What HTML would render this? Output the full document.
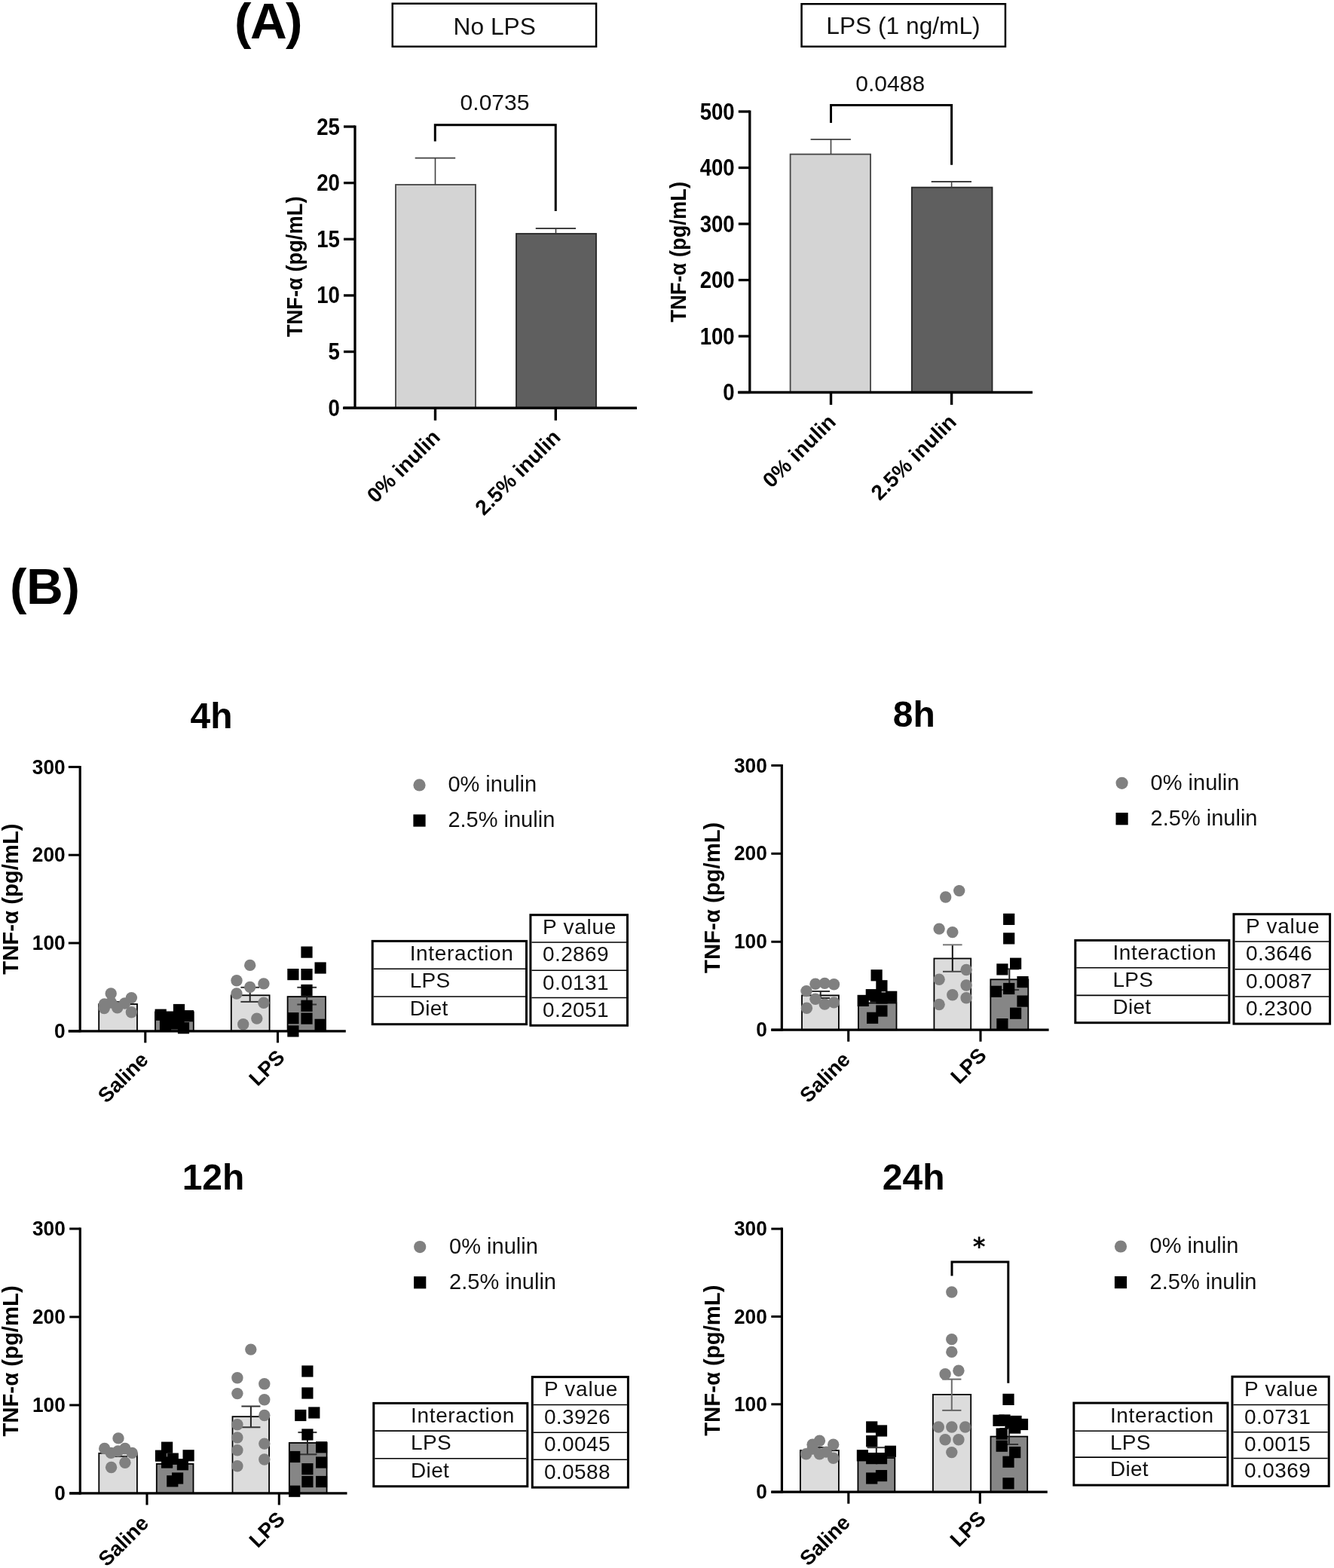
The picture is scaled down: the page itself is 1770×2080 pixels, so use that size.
<!DOCTYPE html>
<html><head><meta charset="utf-8"><title>TNF-alpha figure</title>
<style>
html,body{margin:0;padding:0;background:#fff;}
body{width:1770px;height:2080px;overflow:hidden;}
svg{display:block;font-family:"Liberation Sans", sans-serif;}
</style></head>
<body>
<svg width="1770" height="2080" viewBox="0 0 1770 2080">
<rect x="0" y="0" width="1770" height="2080" fill="#fff"/>
<text x="311.1" y="50.8" font-size="67.5" font-weight="bold" text-anchor="start" fill="#000" letter-spacing="-1.6">(A)</text>
<rect x="520.75" y="4.75" width="270.3" height="57" fill="none" stroke="#000" stroke-width="2.5"/>
<text x="656.2" y="46" font-size="31.7" font-weight="normal" text-anchor="middle" fill="#111" >No LPS</text>
<rect x="1063.55" y="5.25" width="270.4" height="56.5" fill="none" stroke="#000" stroke-width="2.5"/>
<text x="1198.5" y="45.4" font-size="31.7" font-weight="normal" text-anchor="middle" fill="#111" >LPS (1 ng/mL)</text>
<rect x="525" y="245" width="106" height="296.2" fill="#d4d4d4" stroke="#444" stroke-width="1.8"/>
<rect x="685" y="310" width="106" height="231.2" fill="#5f5f5f" stroke="#262626" stroke-width="1.8"/>
<line x1="577.5" y1="245" x2="577.5" y2="209.7" stroke="#404040" stroke-width="1.6" stroke-linecap="butt"/>
<line x1="550.7" y1="209.7" x2="604.2" y2="209.7" stroke="#404040" stroke-width="1.8" stroke-linecap="butt"/>
<line x1="737.5" y1="310" x2="737.5" y2="303" stroke="#404040" stroke-width="1.6" stroke-linecap="butt"/>
<line x1="710.75" y1="303" x2="764" y2="303" stroke="#404040" stroke-width="1.8" stroke-linecap="butt"/>
<line x1="471" y1="166.4" x2="471" y2="542.8" stroke="#000" stroke-width="3.3" stroke-linecap="butt"/>
<line x1="455" y1="541.2" x2="845" y2="541.2" stroke="#000" stroke-width="3.5" stroke-linecap="butt"/>
<line x1="456" y1="541.2" x2="471" y2="541.2" stroke="#000" stroke-width="3.3" stroke-linecap="butt"/>
<text transform="translate(450.9,551.7) scale(0.8900,1)" font-size="31" font-weight="bold" text-anchor="end" fill="#000" >0</text>
<line x1="456" y1="466.56" x2="471" y2="466.56" stroke="#000" stroke-width="3.3" stroke-linecap="butt"/>
<text transform="translate(450.9,477.06) scale(0.8900,1)" font-size="31" font-weight="bold" text-anchor="end" fill="#000" >5</text>
<line x1="456" y1="391.92" x2="471" y2="391.92" stroke="#000" stroke-width="3.3" stroke-linecap="butt"/>
<text transform="translate(450.9,402.42) scale(0.8900,1)" font-size="31" font-weight="bold" text-anchor="end" fill="#000" >10</text>
<line x1="456" y1="317.28" x2="471" y2="317.28" stroke="#000" stroke-width="3.3" stroke-linecap="butt"/>
<text transform="translate(450.9,327.78) scale(0.8900,1)" font-size="31" font-weight="bold" text-anchor="end" fill="#000" >15</text>
<line x1="456" y1="242.64" x2="471" y2="242.64" stroke="#000" stroke-width="3.3" stroke-linecap="butt"/>
<text transform="translate(450.9,253.14) scale(0.8900,1)" font-size="31" font-weight="bold" text-anchor="end" fill="#000" >20</text>
<line x1="456" y1="168" x2="471" y2="168" stroke="#000" stroke-width="3.3" stroke-linecap="butt"/>
<text transform="translate(450.9,178.5) scale(0.8900,1)" font-size="31" font-weight="bold" text-anchor="end" fill="#000" >25</text>
<line x1="577.5" y1="541.2" x2="577.5" y2="557.7" stroke="#000" stroke-width="3.4" stroke-linecap="butt"/>
<line x1="737.3" y1="541.2" x2="737.3" y2="557.7" stroke="#000" stroke-width="3.4" stroke-linecap="butt"/>
<path d="M577.3,187.5 V165.75 H737.25 V280" stroke="#000" stroke-width="3" fill="none" stroke-linejoin="miter"/>
<text x="656.5" y="146" font-size="30" font-weight="normal" text-anchor="middle" fill="#111" >0.0735</text>
<text transform="translate(400.5,353.8) rotate(-90) scale(0.926,1)" font-size="29.48" font-weight="bold" text-anchor="middle">TNF-α (pg/mL)</text>
<rect x="1048.6" y="204.6" width="106.4" height="315.9" fill="#d4d4d4" stroke="#444" stroke-width="1.8"/>
<rect x="1209.8" y="248.6" width="106.7" height="271.9" fill="#5f5f5f" stroke="#262626" stroke-width="1.8"/>
<line x1="1102.5" y1="204.6" x2="1102.5" y2="184.8" stroke="#404040" stroke-width="1.6" stroke-linecap="butt"/>
<line x1="1075.6" y1="184.8" x2="1128.9" y2="184.8" stroke="#404040" stroke-width="1.8" stroke-linecap="butt"/>
<line x1="1262.6" y1="248.6" x2="1262.6" y2="241" stroke="#404040" stroke-width="1.6" stroke-linecap="butt"/>
<line x1="1235.7" y1="241" x2="1289" y2="241" stroke="#404040" stroke-width="1.8" stroke-linecap="butt"/>
<line x1="994.8" y1="146.4" x2="994.8" y2="522.1" stroke="#000" stroke-width="3.3" stroke-linecap="butt"/>
<line x1="979" y1="520.5" x2="1370" y2="520.5" stroke="#000" stroke-width="3.5" stroke-linecap="butt"/>
<line x1="979.8" y1="520.5" x2="994.8" y2="520.5" stroke="#000" stroke-width="3.3" stroke-linecap="butt"/>
<text transform="translate(974.7,531) scale(0.8900,1)" font-size="31" font-weight="bold" text-anchor="end" fill="#000" >0</text>
<line x1="979.8" y1="446" x2="994.8" y2="446" stroke="#000" stroke-width="3.3" stroke-linecap="butt"/>
<text transform="translate(974.7,456.5) scale(0.8900,1)" font-size="31" font-weight="bold" text-anchor="end" fill="#000" >100</text>
<line x1="979.8" y1="371.5" x2="994.8" y2="371.5" stroke="#000" stroke-width="3.3" stroke-linecap="butt"/>
<text transform="translate(974.7,382) scale(0.8900,1)" font-size="31" font-weight="bold" text-anchor="end" fill="#000" >200</text>
<line x1="979.8" y1="297" x2="994.8" y2="297" stroke="#000" stroke-width="3.3" stroke-linecap="butt"/>
<text transform="translate(974.7,307.5) scale(0.8900,1)" font-size="31" font-weight="bold" text-anchor="end" fill="#000" >300</text>
<line x1="979.8" y1="222.5" x2="994.8" y2="222.5" stroke="#000" stroke-width="3.3" stroke-linecap="butt"/>
<text transform="translate(974.7,233) scale(0.8900,1)" font-size="31" font-weight="bold" text-anchor="end" fill="#000" >400</text>
<line x1="979.8" y1="148" x2="994.8" y2="148" stroke="#000" stroke-width="3.3" stroke-linecap="butt"/>
<text transform="translate(974.7,158.5) scale(0.8900,1)" font-size="31" font-weight="bold" text-anchor="end" fill="#000" >500</text>
<line x1="1102.5" y1="520.5" x2="1102.5" y2="537" stroke="#000" stroke-width="3.4" stroke-linecap="butt"/>
<line x1="1262.6" y1="520.5" x2="1262.6" y2="537" stroke="#000" stroke-width="3.4" stroke-linecap="butt"/>
<path d="M1102.5,163 V139.5 H1262.6 V218.8" stroke="#000" stroke-width="3" fill="none" stroke-linejoin="miter"/>
<text x="1181.2" y="121" font-size="30" font-weight="normal" text-anchor="middle" fill="#111" >0.0488</text>
<text transform="translate(909.8,334.3) rotate(-90) scale(0.926,1)" font-size="29.48" font-weight="bold" text-anchor="middle">TNF-α (pg/mL)</text>
<text transform="translate(585.5,581.7) rotate(-45)" font-size="28" font-weight="bold" text-anchor="end">0% inulin</text>
<text transform="translate(745.3,581.7) rotate(-45)" font-size="28" font-weight="bold" text-anchor="end">2.5% inulin</text>
<text transform="translate(1110.5,561.5) rotate(-45)" font-size="28" font-weight="bold" text-anchor="end">0% inulin</text>
<text transform="translate(1270.6,561.5) rotate(-45)" font-size="28" font-weight="bold" text-anchor="end">2.5% inulin</text>
<text x="13.05" y="801.25" font-size="67.5" font-weight="bold" text-anchor="start" fill="#000" letter-spacing="-0.4">(B)</text>
<rect x="131.2" y="1332" width="50.8" height="35.8" fill="#dcdcdc" stroke="#000" stroke-width="1.8"/>
<rect x="206" y="1342.4" width="50.8" height="25.4" fill="#868686" stroke="#000" stroke-width="1.8"/>
<rect x="306.8" y="1320.3" width="50.8" height="47.5" fill="#dcdcdc" stroke="#000" stroke-width="1.8"/>
<rect x="381.6" y="1322.1" width="50.4" height="45.7" fill="#868686" stroke="#000" stroke-width="1.8"/>
<line x1="156.6" y1="1335" x2="156.6" y2="1329" stroke="#222" stroke-width="2" stroke-linecap="butt"/>
<line x1="144.3" y1="1329" x2="168.9" y2="1329" stroke="#333" stroke-width="2" stroke-linecap="butt"/>
<line x1="144.3" y1="1335" x2="168.9" y2="1335" stroke="#333" stroke-width="2" stroke-linecap="butt"/>
<line x1="331.7" y1="1328.9" x2="331.7" y2="1309.8" stroke="#222" stroke-width="2" stroke-linecap="butt"/>
<line x1="319.4" y1="1309.8" x2="344" y2="1309.8" stroke="#333" stroke-width="2" stroke-linecap="butt"/>
<line x1="319.4" y1="1328.9" x2="344" y2="1328.9" stroke="#333" stroke-width="2" stroke-linecap="butt"/>
<line x1="407.2" y1="1332.5" x2="407.2" y2="1309.8" stroke="#222" stroke-width="2" stroke-linecap="butt"/>
<line x1="394.3" y1="1309.8" x2="420.1" y2="1309.8" stroke="#333" stroke-width="2" stroke-linecap="butt"/>
<line x1="394.3" y1="1332.5" x2="420.1" y2="1332.5" stroke="#333" stroke-width="2" stroke-linecap="butt"/>
<circle cx="147.2" cy="1318" r="7.7" fill="#808080"/>
<circle cx="174.4" cy="1323.6" r="7.7" fill="#808080"/>
<circle cx="138.3" cy="1337.6" r="7.7" fill="#808080"/>
<circle cx="155.7" cy="1336.7" r="7.7" fill="#808080"/>
<circle cx="174.4" cy="1342.7" r="7.7" fill="#808080"/>
<circle cx="147.5" cy="1330" r="7.7" fill="#808080"/>
<circle cx="165.5" cy="1331" r="7.7" fill="#808080"/>
<circle cx="138.5" cy="1332" r="7.7" fill="#808080"/>
<circle cx="331.7" cy="1280.4" r="7.7" fill="#808080"/>
<circle cx="314" cy="1300.8" r="7.7" fill="#808080"/>
<circle cx="331.7" cy="1309.4" r="7.7" fill="#808080"/>
<circle cx="349.9" cy="1304.9" r="7.7" fill="#808080"/>
<circle cx="314" cy="1318" r="7.7" fill="#808080"/>
<circle cx="349.9" cy="1330.2" r="7.7" fill="#808080"/>
<circle cx="340.8" cy="1351.1" r="7.7" fill="#808080"/>
<circle cx="322.7" cy="1358.8" r="7.7" fill="#808080"/>
<rect x="205.6" y="1338.6" width="15.2" height="15.2" fill="#000"/>
<rect x="229.9" y="1331.9" width="15.2" height="15.2" fill="#000"/>
<rect x="241.8" y="1340.1" width="15.2" height="15.2" fill="#000"/>
<rect x="217.4" y="1342.9" width="15.2" height="15.2" fill="#000"/>
<rect x="235.9" y="1356.1" width="15.2" height="15.2" fill="#000"/>
<rect x="211.9" y="1352.4" width="15.2" height="15.2" fill="#000"/>
<rect x="223.4" y="1350.4" width="15.2" height="15.2" fill="#000"/>
<rect x="229.4" y="1344.4" width="15.2" height="15.2" fill="#000"/>
<rect x="399.4" y="1255.5" width="15.2" height="15.2" fill="#000"/>
<rect x="381.3" y="1285" width="15.2" height="15.2" fill="#000"/>
<rect x="399.4" y="1285" width="15.2" height="15.2" fill="#000"/>
<rect x="417.5" y="1276.4" width="15.2" height="15.2" fill="#000"/>
<rect x="399.4" y="1305.9" width="15.2" height="15.2" fill="#000"/>
<rect x="399.4" y="1326.7" width="15.2" height="15.2" fill="#000"/>
<rect x="381.3" y="1343.1" width="15.2" height="15.2" fill="#000"/>
<rect x="399.4" y="1343.5" width="15.2" height="15.2" fill="#000"/>
<rect x="417.5" y="1351.7" width="15.2" height="15.2" fill="#000"/>
<rect x="381.3" y="1360.3" width="15.2" height="15.2" fill="#000"/>
<line x1="106.2" y1="1015.9" x2="106.2" y2="1369.3" stroke="#000" stroke-width="3.2" stroke-linecap="butt"/>
<line x1="90.8" y1="1367.8" x2="458.8" y2="1367.8" stroke="#000" stroke-width="3.3" stroke-linecap="butt"/>
<line x1="90.8" y1="1367.8" x2="106.2" y2="1367.8" stroke="#000" stroke-width="3" stroke-linecap="butt"/>
<text transform="translate(86.6,1376.9) scale(0.9580,1)" font-size="27.4" font-weight="bold" text-anchor="end" fill="#000" >0</text>
<line x1="90.8" y1="1251" x2="106.2" y2="1251" stroke="#000" stroke-width="3" stroke-linecap="butt"/>
<text transform="translate(86.6,1260.1) scale(0.9580,1)" font-size="27.4" font-weight="bold" text-anchor="end" fill="#000" >100</text>
<line x1="90.8" y1="1134.2" x2="106.2" y2="1134.2" stroke="#000" stroke-width="3" stroke-linecap="butt"/>
<text transform="translate(86.6,1143.3) scale(0.9580,1)" font-size="27.4" font-weight="bold" text-anchor="end" fill="#000" >200</text>
<line x1="90.8" y1="1017.4" x2="106.2" y2="1017.4" stroke="#000" stroke-width="3" stroke-linecap="butt"/>
<text transform="translate(86.6,1026.5) scale(0.9580,1)" font-size="27.4" font-weight="bold" text-anchor="end" fill="#000" >300</text>
<line x1="192.8" y1="1367.8" x2="192.8" y2="1383.3" stroke="#000" stroke-width="3.1" stroke-linecap="butt"/>
<line x1="368.5" y1="1367.8" x2="368.5" y2="1383.3" stroke="#000" stroke-width="3.1" stroke-linecap="butt"/>
<text transform="translate(23.9,1192.6) rotate(-90) scale(0.984,1)" font-size="29.8" font-weight="bold" text-anchor="middle">TNF-α (pg/mL)</text>
<text transform="translate(198.3,1407.4) rotate(-45)" font-size="27.4" font-weight="bold" text-anchor="end">Saline</text>
<text transform="translate(379.4,1404.3) rotate(-45)" font-size="27.4" font-weight="bold" text-anchor="end">LPS</text>
<text x="280.5" y="966" font-size="48" font-weight="bold" text-anchor="middle" fill="#000" >4h</text>
<circle cx="556.5" cy="1041.4" r="8.1" fill="#808080"/>
<rect x="548.4" y="1080.4" width="16.2" height="16.2" fill="#000"/>
<text x="594.4" y="1050" font-size="29" font-weight="normal" text-anchor="start" fill="#111" >0% inulin</text>
<text x="594.4" y="1097.4" font-size="29" font-weight="normal" text-anchor="start" fill="#111" >2.5% inulin</text>
<rect x="494.2" y="1248.4" width="204.3" height="110.3" fill="none" stroke="#000" stroke-width="3"/>
<rect x="703.9" y="1213.7" width="128.6" height="146.6" fill="none" stroke="#000" stroke-width="3"/>
<line x1="495.7" y1="1285.3" x2="697" y2="1285.3" stroke="#000" stroke-width="1.6" stroke-linecap="butt"/>
<line x1="495.7" y1="1322" x2="697" y2="1322" stroke="#000" stroke-width="1.6" stroke-linecap="butt"/>
<line x1="705.4" y1="1250" x2="831" y2="1250" stroke="#000" stroke-width="1.6" stroke-linecap="butt"/>
<line x1="705.4" y1="1287.3" x2="831" y2="1287.3" stroke="#000" stroke-width="1.6" stroke-linecap="butt"/>
<line x1="705.4" y1="1323.5" x2="831" y2="1323.5" stroke="#000" stroke-width="1.6" stroke-linecap="butt"/>
<text x="543.7" y="1273.9" font-size="28" font-weight="normal" text-anchor="start" fill="#111" letter-spacing="0.64">Interaction</text>
<text x="543.7" y="1310.3" font-size="28" font-weight="normal" text-anchor="start" fill="#111" letter-spacing="0.3">LPS</text>
<text x="543.7" y="1347" font-size="28" font-weight="normal" text-anchor="start" fill="#111" letter-spacing="0.3">Diet</text>
<text x="720" y="1239.2" font-size="28" font-weight="normal" text-anchor="start" fill="#111" letter-spacing="0.75">P value</text>
<text x="720" y="1275.2" font-size="28" font-weight="normal" text-anchor="start" fill="#111" letter-spacing="0.4">0.2869</text>
<text x="720" y="1312.5" font-size="28" font-weight="normal" text-anchor="start" fill="#111" letter-spacing="0.4">0.0131</text>
<text x="720" y="1348.7" font-size="28" font-weight="normal" text-anchor="start" fill="#111" letter-spacing="0.4">0.2051</text>
<rect x="1064" y="1320.4" width="48.9" height="45.8" fill="#dcdcdc" stroke="#000" stroke-width="1.8"/>
<rect x="1138.9" y="1330.5" width="50.6" height="35.7" fill="#868686" stroke="#000" stroke-width="1.8"/>
<rect x="1239.4" y="1271.5" width="48.8" height="94.7" fill="#dcdcdc" stroke="#000" stroke-width="1.8"/>
<rect x="1314.3" y="1299.3" width="50" height="66.9" fill="#868686" stroke="#000" stroke-width="1.8"/>
<line x1="1088.7" y1="1324" x2="1088.7" y2="1315" stroke="#222" stroke-width="2" stroke-linecap="butt"/>
<line x1="1076.4" y1="1315" x2="1101" y2="1315" stroke="#333" stroke-width="2" stroke-linecap="butt"/>
<line x1="1076.4" y1="1324" x2="1101" y2="1324" stroke="#333" stroke-width="2" stroke-linecap="butt"/>
<line x1="1263.8" y1="1288.8" x2="1263.8" y2="1253.3" stroke="#111" stroke-width="2" stroke-linecap="butt"/>
<line x1="1251" y1="1253.3" x2="1276.6" y2="1253.3" stroke="#777" stroke-width="2" stroke-linecap="butt"/>
<line x1="1251" y1="1288.8" x2="1276.6" y2="1288.8" stroke="#4a4a4a" stroke-width="2" stroke-linecap="butt"/>
<line x1="1339.3" y1="1313.1" x2="1339.3" y2="1285.4" stroke="#222" stroke-width="2" stroke-linecap="butt"/>
<line x1="1326.5" y1="1285.4" x2="1352.1" y2="1285.4" stroke="#333" stroke-width="2" stroke-linecap="butt"/>
<line x1="1326.5" y1="1313.1" x2="1352.1" y2="1313.1" stroke="#333" stroke-width="2" stroke-linecap="butt"/>
<circle cx="1081.9" cy="1305.3" r="7.7" fill="#808080"/>
<circle cx="1094.2" cy="1304.4" r="7.7" fill="#808080"/>
<circle cx="1106.5" cy="1305.7" r="7.7" fill="#808080"/>
<circle cx="1070" cy="1314.6" r="7.7" fill="#808080"/>
<circle cx="1081.9" cy="1325.3" r="7.7" fill="#808080"/>
<circle cx="1094.2" cy="1332.1" r="7.7" fill="#808080"/>
<circle cx="1106.5" cy="1329.9" r="7.7" fill="#808080"/>
<circle cx="1070.4" cy="1337.2" r="7.7" fill="#808080"/>
<circle cx="1272.7" cy="1181.6" r="7.7" fill="#808080"/>
<circle cx="1254.7" cy="1190" r="7.7" fill="#808080"/>
<circle cx="1246.1" cy="1232.1" r="7.7" fill="#808080"/>
<circle cx="1263.8" cy="1236.6" r="7.7" fill="#808080"/>
<circle cx="1282.1" cy="1286.5" r="7.7" fill="#808080"/>
<circle cx="1246.1" cy="1299.3" r="7.7" fill="#808080"/>
<circle cx="1282.1" cy="1307" r="7.7" fill="#808080"/>
<circle cx="1263.8" cy="1319.8" r="7.7" fill="#808080"/>
<circle cx="1282.1" cy="1323.7" r="7.7" fill="#808080"/>
<circle cx="1246.1" cy="1332.5" r="7.7" fill="#808080"/>
<rect x="1155.5" y="1286.2" width="15.2" height="15.2" fill="#000"/>
<rect x="1162.3" y="1300.2" width="15.2" height="15.2" fill="#000"/>
<rect x="1148.7" y="1312.1" width="15.2" height="15.2" fill="#000"/>
<rect x="1137.6" y="1319.8" width="15.2" height="15.2" fill="#000"/>
<rect x="1175.1" y="1314.7" width="15.2" height="15.2" fill="#000"/>
<rect x="1162.3" y="1333.4" width="15.2" height="15.2" fill="#000"/>
<rect x="1150" y="1342.7" width="15.2" height="15.2" fill="#000"/>
<rect x="1162.4" y="1316.4" width="15.2" height="15.2" fill="#000"/>
<rect x="1154.4" y="1314.4" width="15.2" height="15.2" fill="#000"/>
<rect x="1331.1" y="1211.8" width="15.2" height="15.2" fill="#000"/>
<rect x="1331.1" y="1237.3" width="15.2" height="15.2" fill="#000"/>
<rect x="1340" y="1270.6" width="15.2" height="15.2" fill="#000"/>
<rect x="1322.3" y="1278.3" width="15.2" height="15.2" fill="#000"/>
<rect x="1349.4" y="1295" width="15.2" height="15.2" fill="#000"/>
<rect x="1313.9" y="1307.7" width="15.2" height="15.2" fill="#000"/>
<rect x="1331.1" y="1303.9" width="15.2" height="15.2" fill="#000"/>
<rect x="1349.4" y="1320.5" width="15.2" height="15.2" fill="#000"/>
<rect x="1340" y="1336.6" width="15.2" height="15.2" fill="#000"/>
<rect x="1322.3" y="1351" width="15.2" height="15.2" fill="#000"/>
<line x1="1037.3" y1="1013.91" x2="1037.3" y2="1367.7" stroke="#000" stroke-width="3.2" stroke-linecap="butt"/>
<line x1="1023.3" y1="1366.2" x2="1391.6" y2="1366.2" stroke="#000" stroke-width="3.3" stroke-linecap="butt"/>
<line x1="1023.3" y1="1366.2" x2="1037.3" y2="1366.2" stroke="#000" stroke-width="3" stroke-linecap="butt"/>
<text transform="translate(1017.8,1375.3) scale(0.9580,1)" font-size="27.4" font-weight="bold" text-anchor="end" fill="#000" >0</text>
<line x1="1023.3" y1="1249.27" x2="1037.3" y2="1249.27" stroke="#000" stroke-width="3" stroke-linecap="butt"/>
<text transform="translate(1017.8,1258.37) scale(0.9580,1)" font-size="27.4" font-weight="bold" text-anchor="end" fill="#000" >100</text>
<line x1="1023.3" y1="1132.34" x2="1037.3" y2="1132.34" stroke="#000" stroke-width="3" stroke-linecap="butt"/>
<text transform="translate(1017.8,1141.44) scale(0.9580,1)" font-size="27.4" font-weight="bold" text-anchor="end" fill="#000" >200</text>
<line x1="1023.3" y1="1015.41" x2="1037.3" y2="1015.41" stroke="#000" stroke-width="3" stroke-linecap="butt"/>
<text transform="translate(1017.8,1024.51) scale(0.9580,1)" font-size="27.4" font-weight="bold" text-anchor="end" fill="#000" >300</text>
<line x1="1125.7" y1="1366.2" x2="1125.7" y2="1381.7" stroke="#000" stroke-width="3.1" stroke-linecap="butt"/>
<line x1="1301" y1="1366.2" x2="1301" y2="1381.7" stroke="#000" stroke-width="3.1" stroke-linecap="butt"/>
<text transform="translate(955,1190.81) rotate(-90) scale(0.984,1)" font-size="29.8" font-weight="bold" text-anchor="middle">TNF-α (pg/mL)</text>
<text transform="translate(1129.6,1407.2) rotate(-45)" font-size="27.4" font-weight="bold" text-anchor="end">Saline</text>
<text transform="translate(1310.5,1401.6) rotate(-45)" font-size="27.4" font-weight="bold" text-anchor="end">LPS</text>
<text x="1212.8" y="963.8" font-size="48" font-weight="bold" text-anchor="middle" fill="#000" >8h</text>
<circle cx="1488.6" cy="1038.8" r="8.1" fill="#808080"/>
<rect x="1480.5" y="1078.1" width="16.2" height="16.2" fill="#000"/>
<text x="1526.6" y="1047.8" font-size="29" font-weight="normal" text-anchor="start" fill="#111" >0% inulin</text>
<text x="1526.6" y="1094.8" font-size="29" font-weight="normal" text-anchor="start" fill="#111" >2.5% inulin</text>
<rect x="1426.8" y="1247.4" width="204.1" height="109.3" fill="none" stroke="#000" stroke-width="3"/>
<rect x="1637" y="1212.7" width="127.6" height="145.4" fill="none" stroke="#000" stroke-width="3"/>
<line x1="1428.3" y1="1283.7" x2="1629.4" y2="1283.7" stroke="#000" stroke-width="1.6" stroke-linecap="butt"/>
<line x1="1428.3" y1="1320.4" x2="1629.4" y2="1320.4" stroke="#000" stroke-width="1.6" stroke-linecap="butt"/>
<line x1="1638.5" y1="1249" x2="1763.1" y2="1249" stroke="#000" stroke-width="1.6" stroke-linecap="butt"/>
<line x1="1638.5" y1="1285.7" x2="1763.1" y2="1285.7" stroke="#000" stroke-width="1.6" stroke-linecap="butt"/>
<line x1="1638.5" y1="1322" x2="1763.1" y2="1322" stroke="#000" stroke-width="1.6" stroke-linecap="butt"/>
<text x="1476.4" y="1272.9" font-size="28" font-weight="normal" text-anchor="start" fill="#111" letter-spacing="0.64">Interaction</text>
<text x="1476.4" y="1308.7" font-size="28" font-weight="normal" text-anchor="start" fill="#111" letter-spacing="0.3">LPS</text>
<text x="1476.4" y="1345.4" font-size="28" font-weight="normal" text-anchor="start" fill="#111" letter-spacing="0.3">Diet</text>
<text x="1653.1" y="1238.2" font-size="28" font-weight="normal" text-anchor="start" fill="#111" letter-spacing="0.75">P value</text>
<text x="1653.1" y="1274.2" font-size="28" font-weight="normal" text-anchor="start" fill="#111" letter-spacing="0.4">0.3646</text>
<text x="1653.1" y="1310.9" font-size="28" font-weight="normal" text-anchor="start" fill="#111" letter-spacing="0.4">0.0087</text>
<text x="1653.1" y="1347.2" font-size="28" font-weight="normal" text-anchor="start" fill="#111" letter-spacing="0.4">0.2300</text>
<rect x="131.3" y="1927.8" width="50.6" height="53.1" fill="#dcdcdc" stroke="#000" stroke-width="1.8"/>
<rect x="207.8" y="1941.9" width="48.7" height="39" fill="#868686" stroke="#000" stroke-width="1.8"/>
<rect x="308.5" y="1879.2" width="48.6" height="101.7" fill="#dcdcdc" stroke="#000" stroke-width="1.8"/>
<rect x="383.8" y="1914" width="49.8" height="66.9" fill="#868686" stroke="#000" stroke-width="1.8"/>
<line x1="156.6" y1="1932" x2="156.6" y2="1924" stroke="#222" stroke-width="2" stroke-linecap="butt"/>
<line x1="144.3" y1="1924" x2="168.9" y2="1924" stroke="#333" stroke-width="2" stroke-linecap="butt"/>
<line x1="144.3" y1="1932" x2="168.9" y2="1932" stroke="#333" stroke-width="2" stroke-linecap="butt"/>
<line x1="332.9" y1="1893.3" x2="332.9" y2="1865.5" stroke="#222" stroke-width="2" stroke-linecap="butt"/>
<line x1="320.4" y1="1865.5" x2="345.4" y2="1865.5" stroke="#333" stroke-width="2" stroke-linecap="butt"/>
<line x1="320.4" y1="1893.3" x2="345.4" y2="1893.3" stroke="#333" stroke-width="2" stroke-linecap="butt"/>
<line x1="407.9" y1="1929.3" x2="407.9" y2="1900.1" stroke="#222" stroke-width="2" stroke-linecap="butt"/>
<line x1="395.4" y1="1900.1" x2="420.4" y2="1900.1" stroke="#333" stroke-width="2" stroke-linecap="butt"/>
<line x1="395.4" y1="1929.3" x2="420.4" y2="1929.3" stroke="#333" stroke-width="2" stroke-linecap="butt"/>
<circle cx="157" cy="1907.9" r="7.7" fill="#808080"/>
<circle cx="138.7" cy="1921.5" r="7.7" fill="#808080"/>
<circle cx="147.2" cy="1927.4" r="7.7" fill="#808080"/>
<circle cx="156.6" cy="1924.9" r="7.7" fill="#808080"/>
<circle cx="165.9" cy="1921.5" r="7.7" fill="#808080"/>
<circle cx="175.3" cy="1927.4" r="7.7" fill="#808080"/>
<circle cx="165.9" cy="1940.2" r="7.7" fill="#808080"/>
<circle cx="147.6" cy="1946.5" r="7.7" fill="#808080"/>
<circle cx="332.8" cy="1790.1" r="7.7" fill="#808080"/>
<circle cx="314.9" cy="1827.7" r="7.7" fill="#808080"/>
<circle cx="350.8" cy="1835.8" r="7.7" fill="#808080"/>
<circle cx="314.9" cy="1848.6" r="7.7" fill="#808080"/>
<circle cx="350.8" cy="1856.7" r="7.7" fill="#808080"/>
<circle cx="350.8" cy="1877.5" r="7.7" fill="#808080"/>
<circle cx="314.9" cy="1889.7" r="7.7" fill="#808080"/>
<circle cx="314.9" cy="1907" r="7.7" fill="#808080"/>
<circle cx="350.8" cy="1915.1" r="7.7" fill="#808080"/>
<circle cx="314.9" cy="1923.8" r="7.7" fill="#808080"/>
<circle cx="350.8" cy="1936" r="7.7" fill="#808080"/>
<circle cx="314.9" cy="1944.7" r="7.7" fill="#808080"/>
<rect x="214" y="1912.6" width="15.2" height="15.2" fill="#000"/>
<rect x="205.9" y="1923.6" width="15.2" height="15.2" fill="#000"/>
<rect x="221.7" y="1927.5" width="15.2" height="15.2" fill="#000"/>
<rect x="242.5" y="1923.2" width="15.2" height="15.2" fill="#000"/>
<rect x="214" y="1932.4" width="15.2" height="15.2" fill="#000"/>
<rect x="234.8" y="1935.1" width="15.2" height="15.2" fill="#000"/>
<rect x="228" y="1953.4" width="15.2" height="15.2" fill="#000"/>
<rect x="221.2" y="1957.2" width="15.2" height="15.2" fill="#000"/>
<rect x="400.3" y="1811.4" width="15.2" height="15.2" fill="#000"/>
<rect x="400.3" y="1840.4" width="15.2" height="15.2" fill="#000"/>
<rect x="391.2" y="1869.9" width="15.2" height="15.2" fill="#000"/>
<rect x="409.2" y="1866.4" width="15.2" height="15.2" fill="#000"/>
<rect x="400.3" y="1895.4" width="15.2" height="15.2" fill="#000"/>
<rect x="419" y="1912.2" width="15.2" height="15.2" fill="#000"/>
<rect x="383.1" y="1924.9" width="15.2" height="15.2" fill="#000"/>
<rect x="419" y="1932.4" width="15.2" height="15.2" fill="#000"/>
<rect x="400.3" y="1941.1" width="15.2" height="15.2" fill="#000"/>
<rect x="400.3" y="1957.9" width="15.2" height="15.2" fill="#000"/>
<rect x="419" y="1957.9" width="15.2" height="15.2" fill="#000"/>
<rect x="383.1" y="1970.6" width="15.2" height="15.2" fill="#000"/>
<line x1="106.3" y1="1628.49" x2="106.3" y2="1982.4" stroke="#000" stroke-width="3.2" stroke-linecap="butt"/>
<line x1="92.2" y1="1980.9" x2="460.5" y2="1980.9" stroke="#000" stroke-width="3.3" stroke-linecap="butt"/>
<line x1="92.2" y1="1980.9" x2="106.3" y2="1980.9" stroke="#000" stroke-width="3" stroke-linecap="butt"/>
<text transform="translate(86.8,1990) scale(0.9580,1)" font-size="27.4" font-weight="bold" text-anchor="end" fill="#000" >0</text>
<line x1="92.2" y1="1863.93" x2="106.3" y2="1863.93" stroke="#000" stroke-width="3" stroke-linecap="butt"/>
<text transform="translate(86.8,1873.03) scale(0.9580,1)" font-size="27.4" font-weight="bold" text-anchor="end" fill="#000" >100</text>
<line x1="92.2" y1="1746.96" x2="106.3" y2="1746.96" stroke="#000" stroke-width="3" stroke-linecap="butt"/>
<text transform="translate(86.8,1756.06) scale(0.9580,1)" font-size="27.4" font-weight="bold" text-anchor="end" fill="#000" >200</text>
<line x1="92.2" y1="1629.99" x2="106.3" y2="1629.99" stroke="#000" stroke-width="3" stroke-linecap="butt"/>
<text transform="translate(86.8,1639.09) scale(0.9580,1)" font-size="27.4" font-weight="bold" text-anchor="end" fill="#000" >300</text>
<line x1="195" y1="1980.9" x2="195" y2="1996.4" stroke="#000" stroke-width="3.1" stroke-linecap="butt"/>
<line x1="370.3" y1="1980.9" x2="370.3" y2="1996.4" stroke="#000" stroke-width="3.1" stroke-linecap="butt"/>
<text transform="translate(24,1805.45) rotate(-90) scale(0.984,1)" font-size="29.8" font-weight="bold" text-anchor="middle">TNF-α (pg/mL)</text>
<text transform="translate(198.8,2022.3) rotate(-45)" font-size="27.4" font-weight="bold" text-anchor="end">Saline</text>
<text transform="translate(379.7,2016.7) rotate(-45)" font-size="27.4" font-weight="bold" text-anchor="end">LPS</text>
<text x="283" y="1578.1" font-size="48" font-weight="bold" text-anchor="middle" fill="#000" >12h</text>
<circle cx="557.2" cy="1654.1" r="8.1" fill="#808080"/>
<rect x="549.1" y="1693.2" width="16.2" height="16.2" fill="#000"/>
<text x="596.1" y="1662.5" font-size="29" font-weight="normal" text-anchor="start" fill="#111" >0% inulin</text>
<text x="596.1" y="1709.5" font-size="29" font-weight="normal" text-anchor="start" fill="#111" >2.5% inulin</text>
<rect x="495.8" y="1861.4" width="204" height="110.3" fill="none" stroke="#000" stroke-width="3"/>
<rect x="706.3" y="1826.6" width="127.1" height="146.5" fill="none" stroke="#000" stroke-width="3"/>
<line x1="497.3" y1="1898.1" x2="698.3" y2="1898.1" stroke="#000" stroke-width="1.6" stroke-linecap="butt"/>
<line x1="497.3" y1="1934.8" x2="698.3" y2="1934.8" stroke="#000" stroke-width="1.6" stroke-linecap="butt"/>
<line x1="707.8" y1="1863.5" x2="831.9" y2="1863.5" stroke="#000" stroke-width="1.6" stroke-linecap="butt"/>
<line x1="707.8" y1="1900.2" x2="831.9" y2="1900.2" stroke="#000" stroke-width="1.6" stroke-linecap="butt"/>
<line x1="707.8" y1="1936.3" x2="831.9" y2="1936.3" stroke="#000" stroke-width="1.6" stroke-linecap="butt"/>
<text x="545.1" y="1886.9" font-size="28" font-weight="normal" text-anchor="start" fill="#111" letter-spacing="0.64">Interaction</text>
<text x="545.1" y="1923.1" font-size="28" font-weight="normal" text-anchor="start" fill="#111" letter-spacing="0.3">LPS</text>
<text x="545.1" y="1959.8" font-size="28" font-weight="normal" text-anchor="start" fill="#111" letter-spacing="0.3">Diet</text>
<text x="721.9" y="1852.1" font-size="28" font-weight="normal" text-anchor="start" fill="#111" letter-spacing="0.75">P value</text>
<text x="721.9" y="1888.7" font-size="28" font-weight="normal" text-anchor="start" fill="#111" letter-spacing="0.4">0.3926</text>
<text x="721.9" y="1925.4" font-size="28" font-weight="normal" text-anchor="start" fill="#111" letter-spacing="0.4">0.0045</text>
<text x="721.9" y="1961.5" font-size="28" font-weight="normal" text-anchor="start" fill="#111" letter-spacing="0.4">0.0588</text>
<rect x="1061.9" y="1924" width="51" height="55.2" fill="#dcdcdc" stroke="#000" stroke-width="1.8"/>
<rect x="1138.4" y="1934" width="48.9" height="45.2" fill="#868686" stroke="#000" stroke-width="1.8"/>
<rect x="1237.9" y="1849.9" width="50.3" height="129.3" fill="#dcdcdc" stroke="#000" stroke-width="1.8"/>
<rect x="1314.5" y="1905.6" width="48.7" height="73.6" fill="#868686" stroke="#000" stroke-width="1.8"/>
<line x1="1087.4" y1="1928" x2="1087.4" y2="1920" stroke="#222" stroke-width="2" stroke-linecap="butt"/>
<line x1="1075.1" y1="1920" x2="1099.7" y2="1920" stroke="#333" stroke-width="2" stroke-linecap="butt"/>
<line x1="1075.1" y1="1928" x2="1099.7" y2="1928" stroke="#333" stroke-width="2" stroke-linecap="butt"/>
<line x1="1162.8" y1="1936" x2="1162.8" y2="1920.2" stroke="#222" stroke-width="2" stroke-linecap="butt"/>
<line x1="1150.5" y1="1920.2" x2="1175.1" y2="1920.2" stroke="#333" stroke-width="2" stroke-linecap="butt"/>
<line x1="1150.5" y1="1936" x2="1175.1" y2="1936" stroke="#333" stroke-width="2" stroke-linecap="butt"/>
<line x1="1262.8" y1="1870.9" x2="1262.8" y2="1829.6" stroke="#6b6b6b" stroke-width="2" stroke-linecap="butt"/>
<line x1="1250.2" y1="1829.6" x2="1275.4" y2="1829.6" stroke="#6b6b6b" stroke-width="2" stroke-linecap="butt"/>
<line x1="1250.2" y1="1870.9" x2="1275.4" y2="1870.9" stroke="#666" stroke-width="2" stroke-linecap="butt"/>
<line x1="1338.8" y1="1916" x2="1338.8" y2="1895" stroke="#222" stroke-width="2" stroke-linecap="butt"/>
<line x1="1326.5" y1="1895" x2="1351.1" y2="1895" stroke="#333" stroke-width="2" stroke-linecap="butt"/>
<line x1="1326.5" y1="1916" x2="1351.1" y2="1916" stroke="#333" stroke-width="2" stroke-linecap="butt"/>
<circle cx="1087.4" cy="1911.2" r="7.7" fill="#808080"/>
<circle cx="1078.1" cy="1916.3" r="7.7" fill="#808080"/>
<circle cx="1105.7" cy="1916.3" r="7.7" fill="#808080"/>
<circle cx="1069.6" cy="1928.7" r="7.7" fill="#808080"/>
<circle cx="1087.4" cy="1928.7" r="7.7" fill="#808080"/>
<circle cx="1096.3" cy="1926.1" r="7.7" fill="#808080"/>
<circle cx="1105.7" cy="1934.2" r="7.7" fill="#808080"/>
<circle cx="1078.1" cy="1922" r="7.7" fill="#808080"/>
<circle cx="1262.8" cy="1714" r="7.7" fill="#808080"/>
<circle cx="1262.8" cy="1776.6" r="7.7" fill="#808080"/>
<circle cx="1262.8" cy="1793.4" r="7.7" fill="#808080"/>
<circle cx="1271.9" cy="1818.2" r="7.7" fill="#808080"/>
<circle cx="1254.1" cy="1822.8" r="7.7" fill="#808080"/>
<circle cx="1245.3" cy="1893" r="7.7" fill="#808080"/>
<circle cx="1262.8" cy="1893" r="7.7" fill="#808080"/>
<circle cx="1280.7" cy="1893" r="7.7" fill="#808080"/>
<circle cx="1254.1" cy="1909.8" r="7.7" fill="#808080"/>
<circle cx="1271.9" cy="1909.8" r="7.7" fill="#808080"/>
<circle cx="1262.8" cy="1926.6" r="7.7" fill="#808080"/>
<rect x="1149.1" y="1885.4" width="15.2" height="15.2" fill="#000"/>
<rect x="1161.9" y="1890.4" width="15.2" height="15.2" fill="#000"/>
<rect x="1149.1" y="1904.1" width="15.2" height="15.2" fill="#000"/>
<rect x="1173.8" y="1917.7" width="15.2" height="15.2" fill="#000"/>
<rect x="1136.8" y="1923.2" width="15.2" height="15.2" fill="#000"/>
<rect x="1149.1" y="1927" width="15.2" height="15.2" fill="#000"/>
<rect x="1161.9" y="1927" width="15.2" height="15.2" fill="#000"/>
<rect x="1161.9" y="1950" width="15.2" height="15.2" fill="#000"/>
<rect x="1149.1" y="1953.4" width="15.2" height="15.2" fill="#000"/>
<rect x="1330.4" y="1848.8" width="15.2" height="15.2" fill="#000"/>
<rect x="1317.4" y="1876.7" width="15.2" height="15.2" fill="#000"/>
<rect x="1348.9" y="1881.9" width="15.2" height="15.2" fill="#000"/>
<rect x="1321.6" y="1894.5" width="15.2" height="15.2" fill="#000"/>
<rect x="1339.1" y="1886.5" width="15.2" height="15.2" fill="#000"/>
<rect x="1321.6" y="1910.6" width="15.2" height="15.2" fill="#000"/>
<rect x="1339.1" y="1919" width="15.2" height="15.2" fill="#000"/>
<rect x="1330.4" y="1931.6" width="15.2" height="15.2" fill="#000"/>
<rect x="1330.4" y="1960.2" width="15.2" height="15.2" fill="#000"/>
<rect x="1333.4" y="1879.4" width="15.2" height="15.2" fill="#000"/>
<rect x="1325.4" y="1876.4" width="15.2" height="15.2" fill="#000"/>
<rect x="1340.4" y="1877.9" width="15.2" height="15.2" fill="#000"/>
<line x1="1037.4" y1="1628.59" x2="1037.4" y2="1980.7" stroke="#000" stroke-width="3.2" stroke-linecap="butt"/>
<line x1="1023.3" y1="1979.2" x2="1389.8" y2="1979.2" stroke="#000" stroke-width="3.3" stroke-linecap="butt"/>
<line x1="1023.3" y1="1979.2" x2="1037.4" y2="1979.2" stroke="#000" stroke-width="3" stroke-linecap="butt"/>
<text transform="translate(1017.8,1988.3) scale(0.9580,1)" font-size="27.4" font-weight="bold" text-anchor="end" fill="#000" >0</text>
<line x1="1023.3" y1="1862.83" x2="1037.4" y2="1862.83" stroke="#000" stroke-width="3" stroke-linecap="butt"/>
<text transform="translate(1017.8,1871.93) scale(0.9580,1)" font-size="27.4" font-weight="bold" text-anchor="end" fill="#000" >100</text>
<line x1="1023.3" y1="1746.46" x2="1037.4" y2="1746.46" stroke="#000" stroke-width="3" stroke-linecap="butt"/>
<text transform="translate(1017.8,1755.56) scale(0.9580,1)" font-size="27.4" font-weight="bold" text-anchor="end" fill="#000" >200</text>
<line x1="1023.3" y1="1630.09" x2="1037.4" y2="1630.09" stroke="#000" stroke-width="3" stroke-linecap="butt"/>
<text transform="translate(1017.8,1639.19) scale(0.9580,1)" font-size="27.4" font-weight="bold" text-anchor="end" fill="#000" >300</text>
<line x1="1125.8" y1="1979.2" x2="1125.8" y2="1994.7" stroke="#000" stroke-width="3.1" stroke-linecap="butt"/>
<line x1="1300.3" y1="1979.2" x2="1300.3" y2="1994.7" stroke="#000" stroke-width="3.1" stroke-linecap="butt"/>
<text transform="translate(955.1,1804.64) rotate(-90) scale(0.984,1)" font-size="29.8" font-weight="bold" text-anchor="middle">TNF-α (pg/mL)</text>
<text transform="translate(1129.6,2021.5) rotate(-45)" font-size="27.4" font-weight="bold" text-anchor="end">Saline</text>
<text transform="translate(1309.7,2015.9) rotate(-45)" font-size="27.4" font-weight="bold" text-anchor="end">LPS</text>
<text x="1212.1" y="1578.1" font-size="48" font-weight="bold" text-anchor="middle" fill="#000" >24h</text>
<circle cx="1487" cy="1653.5" r="8.1" fill="#808080"/>
<rect x="1478.9" y="1693" width="16.2" height="16.2" fill="#000"/>
<text x="1525.6" y="1662.3" font-size="29" font-weight="normal" text-anchor="start" fill="#111" >0% inulin</text>
<text x="1525.6" y="1709.5" font-size="29" font-weight="normal" text-anchor="start" fill="#111" >2.5% inulin</text>
<rect x="1424.8" y="1861.1" width="204.1" height="109" fill="none" stroke="#000" stroke-width="3"/>
<rect x="1635" y="1826.2" width="128.2" height="145.2" fill="none" stroke="#000" stroke-width="3"/>
<line x1="1426.3" y1="1898.2" x2="1627.4" y2="1898.2" stroke="#000" stroke-width="1.6" stroke-linecap="butt"/>
<line x1="1426.3" y1="1933.1" x2="1627.4" y2="1933.1" stroke="#000" stroke-width="1.6" stroke-linecap="butt"/>
<line x1="1636.5" y1="1863.5" x2="1761.7" y2="1863.5" stroke="#000" stroke-width="1.6" stroke-linecap="butt"/>
<line x1="1636.5" y1="1899.8" x2="1761.7" y2="1899.8" stroke="#000" stroke-width="1.6" stroke-linecap="butt"/>
<line x1="1636.5" y1="1934.5" x2="1761.7" y2="1934.5" stroke="#000" stroke-width="1.6" stroke-linecap="butt"/>
<text x="1472.9" y="1886.6" font-size="28" font-weight="normal" text-anchor="start" fill="#111" letter-spacing="0.64">Interaction</text>
<text x="1472.9" y="1923.2" font-size="28" font-weight="normal" text-anchor="start" fill="#111" letter-spacing="0.3">LPS</text>
<text x="1472.9" y="1958.1" font-size="28" font-weight="normal" text-anchor="start" fill="#111" letter-spacing="0.3">Diet</text>
<text x="1651.1" y="1851.7" font-size="28" font-weight="normal" text-anchor="start" fill="#111" letter-spacing="0.75">P value</text>
<text x="1651.1" y="1888.7" font-size="28" font-weight="normal" text-anchor="start" fill="#111" letter-spacing="0.4">0.0731</text>
<text x="1651.1" y="1925" font-size="28" font-weight="normal" text-anchor="start" fill="#111" letter-spacing="0.4">0.0015</text>
<text x="1651.1" y="1959.7" font-size="28" font-weight="normal" text-anchor="start" fill="#111" letter-spacing="0.4">0.0369</text>
<path d="M1263,1692.4 V1674 H1337.8 V1834.7" stroke="#000" stroke-width="3" fill="none" stroke-linejoin="miter"/>
<text x="1299.05" y="1663.9" font-size="32.5" font-weight="normal" text-anchor="middle" fill="#000" font-family="DejaVu Sans, sans-serif" stroke="#000" stroke-width="0.9">*</text>
</svg>
</body></html>
